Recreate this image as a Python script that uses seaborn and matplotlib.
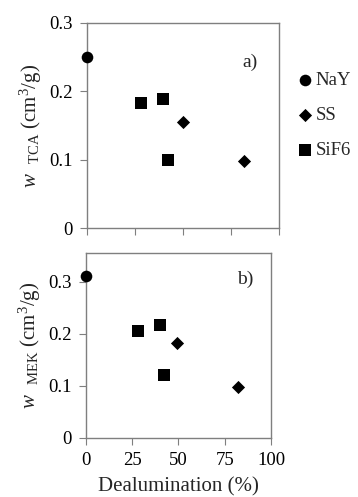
import matplotlib
matplotlib.use("Agg")
import matplotlib.pyplot as plt
import seaborn as sns
import pandas as pd

# data
samples = ["NaY", "SiF6", "SiF6", "SiF6", "SS", "SS"]
dealum = [0, 28, 39.5, 42, 50, 82]
w_tca = [0.25, 0.183, 0.188, 0.099, 0.155, 0.098]
dealum_b = [0, 28, 40, 42, 49, 82]
w_mek = [0.31, 0.205, 0.217, 0.12, 0.183, 0.097]

sns.set_style("ticks")
plt.rcParams["font.family"] = ["Liberation Serif", "DejaVu Serif"]
plt.rcParams["mathtext.fontset"] = "custom"
plt.rcParams["mathtext.rm"] = "Liberation Serif"
plt.rcParams["mathtext.it"] = "Liberation Serif:italic"

df_a = pd.DataFrame({"sample": samples, "x": dealum, "y": w_tca})
df_b = pd.DataFrame({"sample": samples, "x": dealum_b, "y": w_mek})

markers = {"NaY": "o", "SS": "D", "SiF6": "s"}
sizes = {"NaY": 70, "SS": 45, "SiF6": 85}
order = ["NaY", "SS", "SiF6"]

fig = plt.figure(figsize=(3.58, 4.97), dpi=100)
ax1 = fig.add_axes([0.243, 0.541, 0.536, 0.413])
ax2 = fig.add_axes([0.240, 0.119, 0.517, 0.372])

for ax, df in [(ax1, df_a), (ax2, df_b)]:
    for s in order:
        d = df[df["sample"] == s]
        sns.scatterplot(data=d, x="x", y="y", marker=markers[s], s=sizes[s],
                        color="black", edgecolor="black", linewidth=0,
                        ax=ax, clip_on=False, zorder=5, label=s)
    ax.set_xlim(0, 100)
    ax.set_xticks([0, 25, 50, 75, 100])
    for sp in ax.spines.values():
        sp.set_color("#7f7f7f")
        sp.set_linewidth(1.0)
    ax.tick_params(colors="#7f7f7f", labelcolor="black", labelsize=13.5,
                   length=5, width=0.8, pad=5)
    ax.get_legend().remove()

ax1.set_ylim(0, 0.3)
ax1.set_yticks([0, 0.1, 0.2, 0.3])
ax1.set_yticklabels(["0", "0.1", "0.2", "0.3"])
ax1.set_xticklabels([])
ax1.set_xlabel("")
ax1.set_ylabel(r"$w$  $_{\mathrm{TCA}}$ (cm$^3$/g)", fontsize=15, labelpad=4)
ax1.text(0.81, 0.81, "a)", transform=ax1.transAxes, fontsize=14, va="center")

ax2.set_ylim(0, 0.355)
ax2.set_yticks([0, 0.1, 0.2, 0.3])
ax2.set_yticklabels(["0", "0.1", "0.2", "0.3"])
ax2.set_xticklabels(["0", "25", "50", "75", "100"])
ax2.set_xlabel("Dealumination (%)", fontsize=15, labelpad=6)
ax2.set_ylabel(r"$w$  $_{\mathrm{MEK}}$ (cm$^3$/g)", fontsize=15, labelpad=4)
ax2.text(0.815, 0.855, "b)", transform=ax2.transAxes, fontsize=14, va="center")

handles, labels = ax1.get_legend_handles_labels()
fig.legend(handles, labels, loc="upper left", bbox_to_anchor=(0.805, 0.87),
           frameon=False, fontsize=13.5, handletextpad=0.05, labelspacing=0.95,
           handlelength=1.0, borderaxespad=0)

fig.savefig("out.png", dpi=100)
